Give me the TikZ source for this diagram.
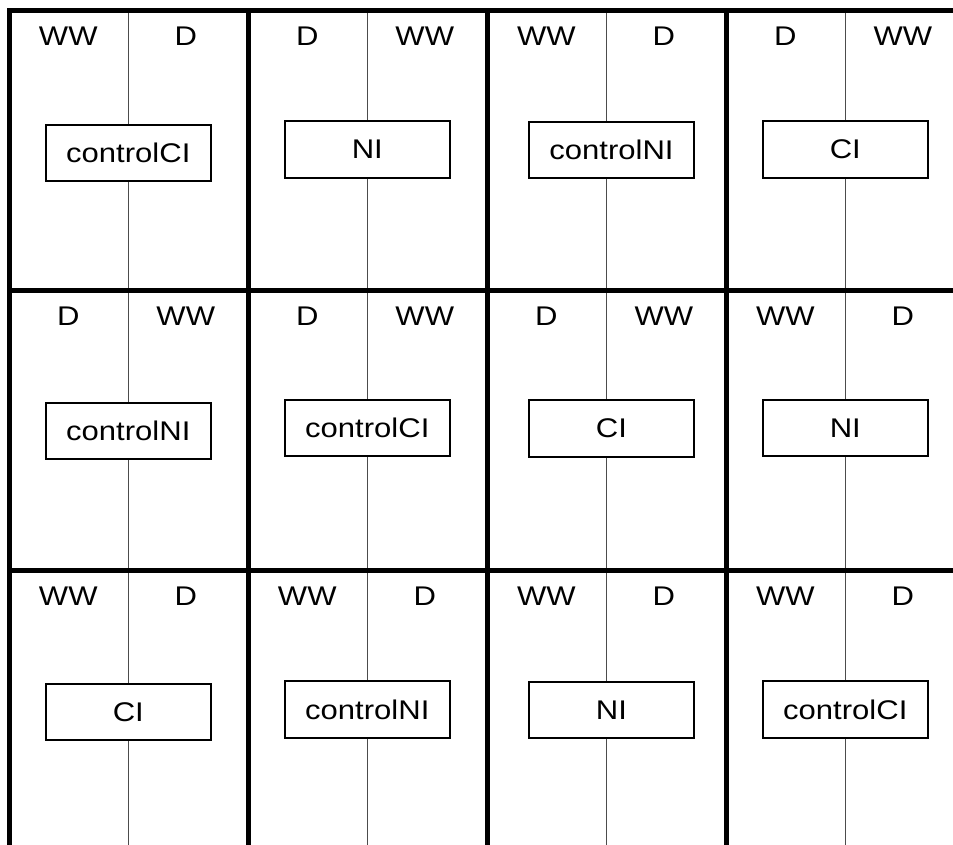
\documentclass[tikz,border=0pt]{standalone}
\usepackage{fontspec}
\setmainfont[FakeStretch=1.15]{Liberation Sans}
\tikzset{
  frame line/.style={line width=5pt},
  mid line/.style={line width=1.2pt, black!70},
  cond box/.style={draw, line width=1.7pt, fill=white, minimum width=165pt, minimum height=56.5pt, inner sep=0pt},
  side label/.style={anchor=base, inner sep=0pt},
}

\begin{document}
\begin{tikzpicture}[x=1pt, y=-1pt, every node/.style={font=\fontsize{27}{32}\selectfont}]
  \useasboundingbox (0,0) rectangle (953,845);
  % condition boxes, row by row
  \node[cond box] (b11) at (128.3,153)   {controlCI};
  \node[cond box] (b12) at (367.3,149.5) {NI};
  \node[cond box] (b13) at (611.5,150)   {controlNI};
  \node[cond box] (b14) at (845.3,149.5) {CI};
  \node[cond box] (b21) at (128.3,431)   {controlNI};
  \node[cond box] (b22) at (367.3,428)   {controlCI};
  \node[cond box] (b23) at (611.5,428.5) {CI};
  \node[cond box] (b24) at (845.3,428)   {NI};
  \node[cond box] (b31) at (128.3,712)   {CI};
  \node[cond box] (b32) at (367.3,709.5) {controlNI};
  \node[cond box] (b33) at (611.5,710)   {NI};
  \node[cond box] (b34) at (845.3,709.5) {controlCI};
  % side labels
  \node[side label] (l11) at (68.3,45.5)  {WW};
  \node[side label] (r11) at (185.8,45.5) {D};
  \node[side label] (l12) at (307.3,45.5) {D};
  \node[side label] (r12) at (424.8,45.5) {WW};
  \node[side label] (l13) at (546.3,45.5) {WW};
  \node[side label] (r13) at (663.8,45.5) {D};
  \node[side label] (l14) at (785.3,45.5) {D};
  \node[side label] (r14) at (902.8,45.5) {WW};
  \node[side label] (l21) at (68.3,325)   {D};
  \node[side label] (r21) at (185.8,325)  {WW};
  \node[side label] (l22) at (307.3,325)  {D};
  \node[side label] (r22) at (424.8,325)  {WW};
  \node[side label] (l23) at (546.3,325)  {D};
  \node[side label] (r23) at (663.8,325)  {WW};
  \node[side label] (l24) at (785.3,325)  {WW};
  \node[side label] (r24) at (902.8,325)  {D};
  \node[side label] (l31) at (68.3,605)   {WW};
  \node[side label] (r31) at (185.8,605)  {D};
  \node[side label] (l32) at (307.3,605)  {WW};
  \node[side label] (r32) at (424.8,605)  {D};
  \node[side label] (l33) at (546.3,605)  {WW};
  \node[side label] (r33) at (663.8,605)  {D};
  \node[side label] (l34) at (785.3,605)  {WW};
  \node[side label] (r34) at (902.8,605)  {D};
  % ends of the middle lines
  \foreach \i/\x in {1/128.3, 2/367.3, 3/606.3, 4/845.3}
    \foreach \j/\y in {1/10.5, 2/290, 3/570, 4/845}
      \coordinate (m\j\i) at (\x,\y);
  \foreach \j/\k in {1/2, 2/3, 3/4}
    \foreach \i in {1,...,4}
      \draw[mid line] (m\j\i) -- (m\j\i |- b\j\i.north) (m\j\i |- b\j\i.south) -- (m\k\i);
  % grid
  \draw[frame line] (953,10.5) -| (9,845);
  \draw[frame line] (9,290) -- (953,290) (9,570) -- (953,570);
  \draw[frame line] (248,10.5) -- (248,845) (487,10.5) -- (487,845) (726,10.5) -- (726,845);
\end{tikzpicture}
\end{document}
